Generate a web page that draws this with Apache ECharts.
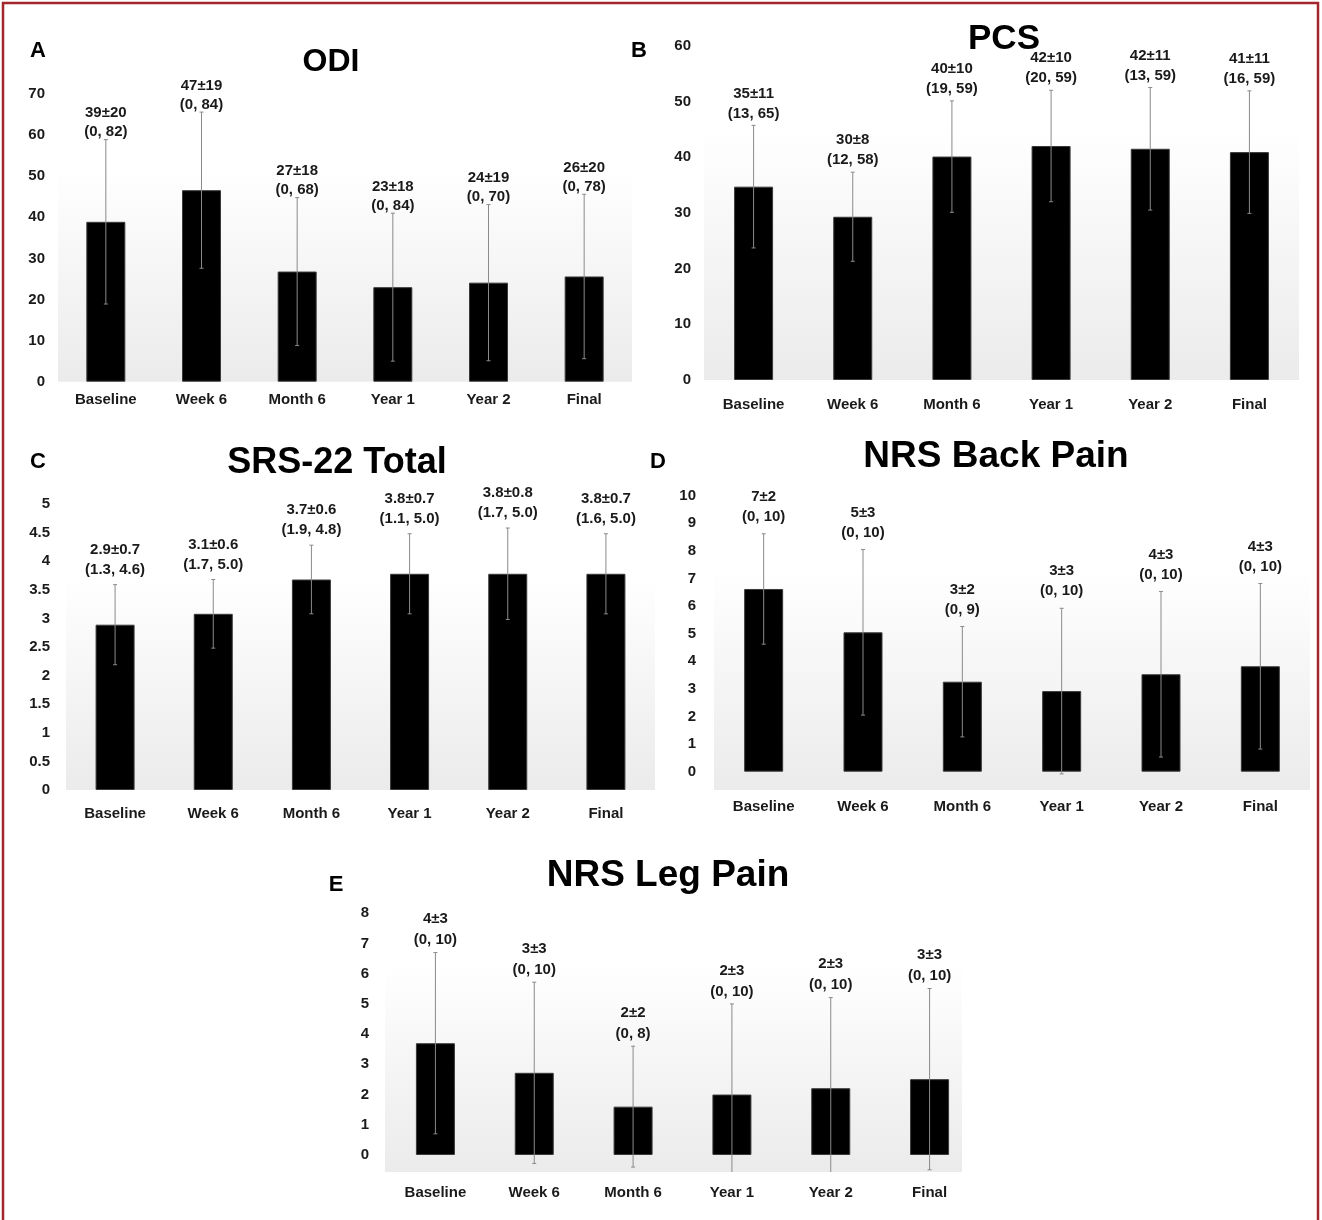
<!DOCTYPE html>
<html>
<head>
<meta charset="utf-8">
<script src="https://cdn.jsdelivr.net/npm/echarts@6/dist/echarts.min.js"></script>
<style>
html,body{margin:0;padding:0;background:#fff;}
#chart{width:1322px;height:1220px;}
</style>
</head>
<body>
<div id="chart"></div>
<script>
// ---------- DATA ----------
const categories = ['Baseline', 'Week 6', 'Month 6', 'Year 1', 'Year 2', 'Final'];

const odiMean = [38.9, 46.6, 26.8, 23.0, 24.1, 25.6];
const odiSd = [20, 19, 18, 18, 19, 20];
const odiSummary = ['39±20', '47±19', '27±18', '23±18', '24±19', '26±20'];
const odiRange = ['(0, 82)', '(0, 84)', '(0, 68)', '(0, 84)', '(0, 70)', '(0, 78)'];

const pcsMean = [34.7, 29.3, 40.1, 42.0, 41.5, 40.9];
const pcsSd = [11, 8, 10, 10, 11, 11];
const pcsSummary = ['35±11', '30±8', '40±10', '42±10', '42±11', '41±11'];
const pcsRange = ['(13, 65)', '(12, 58)', '(19, 59)', '(20, 59)', '(13, 59)', '(16, 59)'];

const srsMean = [2.89, 3.08, 3.68, 3.78, 3.78, 3.78];
const srsSd = [0.7, 0.6, 0.6, 0.7, 0.8, 0.7];
const srsSummary = ['2.9±0.7', '3.1±0.6', '3.7±0.6', '3.8±0.7', '3.8±0.8', '3.8±0.7'];
const srsRange = ['(1.3, 4.6)', '(1.7, 5.0)', '(1.9, 4.8)', '(1.1, 5.0)', '(1.7, 5.0)', '(1.6, 5.0)'];

const backMean = [6.62, 5.05, 3.26, 2.92, 3.53, 3.82];
const backSd = [2, 3, 2, 3, 3, 3];
const backSummary = ['7±2', '5±3', '3±2', '3±3', '4±3', '4±3'];
const backRange = ['(0, 10)', '(0, 10)', '(0, 9)', '(0, 10)', '(0, 10)', '(0, 10)'];

const legMean = [3.7, 2.72, 1.6, 2.0, 2.21, 2.51];
const legSd = [3, 3, 2, 3, 3, 3];
const legSummary = ['4±3', '3±3', '2±2', '2±3', '2±3', '3±3'];
const legRange = ['(0, 10)', '(0, 10)', '(0, 8)', '(0, 10)', '(0, 10)', '(0, 10)'];

const odiTicks = [0, 10, 20, 30, 40, 50, 60, 70];
const pcsTicks = [0, 10, 20, 30, 40, 50, 60];
const srsTicks = [0, 0.5, 1, 1.5, 2, 2.5, 3, 3.5, 4, 4.5, 5];
const backTicks = [0, 1, 2, 3, 4, 5, 6, 7, 8, 9, 10];
const legTicks = [0, 1, 2, 3, 4, 5, 6, 7, 8];

// ---------- LAYOUT ----------
const FONT = '"Liberation Sans", Arial, Helvetica, sans-serif';
const panels = [
  {mean: odiMean, sd: odiSd, sum: odiSummary, rng: odiRange, ticks: odiTicks,
   grid: {left: 58, top: 94, width: 574, height: 287.7}, min: 0, max: 70,
   yMargin: 13, xMargin: 11, bg: true, gap: -2, lh: 19},
  {mean: pcsMean, sd: pcsSd, sum: pcsSummary, rng: pcsRange, ticks: pcsTicks,
   grid: {left: 704, top: 45.7, width: 595, height: 334.3}, min: 0, max: 60,
   yMargin: 13, xMargin: 17, bg: true, gap: 2, lh: 20},
  {mean: srsMean, sd: srsSd, sum: srsSummary, rng: srsRange, ticks: srsTicks,
   grid: {left: 66, top: 504, width: 589, height: 286}, min: 0, max: 5,
   yMargin: 16, xMargin: 16, bg: true, gap: 5, lh: 20},
  {mean: backMean, sd: backSd, sum: backSummary, rng: backRange, ticks: backTicks,
   grid: {left: 714, top: 495.7, width: 596, height: 294.2}, min: -0.66, max: 10,
   yMargin: 18, xMargin: 9, bg: true, gap: 7, lh: 20},
  {mean: legMean, sd: legSd, sum: legSummary, rng: legRange, ticks: legTicks,
   grid: {left: 386, top: 913.3, width: 593, height: 258.6}, min: -0.56, max: 8,
   yMargin: 17, xMargin: 13, bg: false, gap: 2, lh: 21}
];

function bgGradient() {
  return new echarts.graphic.LinearGradient(0, 0, 0, 1, [
    {offset: 0, color: '#ffffff'},
    {offset: 0.25, color: '#ffffff'},
    {offset: 1, color: '#ebebeb'}
  ]);
}

const grids = [], xAxes = [], yAxes = [], series = [];
panels.forEach((p, k) => {
  grids.push(Object.assign({show: p.bg, backgroundColor: p.bg ? bgGradient() : 'transparent', borderWidth: 0}, p.grid));
  xAxes.push({
    type: 'category', gridIndex: k, data: categories,
    axisLine: {show: false}, axisTick: {show: false},
    axisLabel: {color: '#1a1a1a', fontFamily: FONT, fontWeight: 'bold', fontSize: 15, margin: p.xMargin}
  });
  yAxes.push({
    type: 'value', gridIndex: k, min: p.min, max: p.max,
    splitLine: {show: false}, axisLine: {show: false}, axisTick: {show: false},
    axisLabel: {customValues: p.ticks, color: '#1a1a1a', fontFamily: FONT, fontWeight: 'bold', fontSize: 15, margin: p.yMargin}
  });
  series.push({
    type: 'bar', xAxisIndex: k, yAxisIndex: k, barWidth: 39,
    itemStyle: {color: '#000', borderColor: '#3a3a3a', borderWidth: 1},
    data: p.mean, z: 2, silent: true
  });
  series.push({
    type: 'custom', xAxisIndex: k, yAxisIndex: k, z: 5, silent: true,
    encode: {x: 0, y: 1},
    data: p.mean.map((m, i) => [i, m, p.sd[i]]),
    renderItem: function (params, api) {
      const i = api.value(0), m = api.value(1), s = api.value(2);
      const top = api.coord([i, m + s]);
      const bot = api.coord([i, m - s]);
      const cs = params.coordSys;
      const yLimit = cs.y + cs.height;
      const by = Math.min(bot[1], yLimit);
      const x = top[0];
      const st = {stroke: '#8a8a8a', lineWidth: 1};
      const children = [
        {type: 'line', shape: {x1: x, y1: top[1], x2: x, y2: by}, style: st},
        {type: 'line', shape: {x1: x - 2, y1: top[1], x2: x + 2, y2: top[1]}, style: st}
      ];
      if (bot[1] <= yLimit) {
        children.push({type: 'line', shape: {x1: x - 2, y1: by, x2: x + 2, y2: by}, style: st});
      }
      children.push({
        type: 'text',
        style: {
          text: p.sum[params.dataIndex] + '\n' + p.rng[params.dataIndex],
          x: x, y: top[1] - p.gap,
          align: 'center', verticalAlign: 'bottom',
          textAlign: 'center', textVerticalAlign: 'bottom',
          font: 'bold 15px ' + FONT, lineHeight: p.lh, fill: '#1a1a1a'
        }
      });
      return {type: 'group', children: children};
    }
  });
});

const titleFont = (s) => 'bold ' + s + 'px ' + FONT;
const graphics = [
  {type: 'rect', z: 0, shape: {x: 385, y: 913, width: 577, height: 259},
   style: {fill: new echarts.graphic.LinearGradient(0, 0, 0, 1, [
     {offset: 0, color: '#ffffff'}, {offset: 0.2, color: '#ffffff'}, {offset: 1, color: '#ebebeb'}])}},
  {type: 'rect', z: 100, shape: {x: 3, y: 3, width: 1315, height: 1240},
   style: {fill: 'none', stroke: '#a3262c', lineWidth: 2.5}},
  {type: 'text', x: 331, y: 62, style: {text: 'ODI', font: titleFont(32), fill: '#000', align: 'center', verticalAlign: 'middle'}},
  {type: 'text', x: 1004, y: 39, style: {text: 'PCS', font: titleFont(35), fill: '#000', align: 'center', verticalAlign: 'middle'}},
  {type: 'text', x: 337, y: 463, style: {text: 'SRS-22 Total', font: titleFont(36), fill: '#000', align: 'center', verticalAlign: 'middle'}},
  {type: 'text', x: 996, y: 457, style: {text: 'NRS Back Pain', font: titleFont(37), fill: '#000', align: 'center', verticalAlign: 'middle'}},
  {type: 'text', x: 668, y: 876, style: {text: 'NRS Leg Pain', font: titleFont(37), fill: '#000', align: 'center', verticalAlign: 'middle'}},
  {type: 'text', x: 38, y: 51, style: {text: 'A', font: titleFont(22), fill: '#000', align: 'center', verticalAlign: 'middle'}},
  {type: 'text', x: 639, y: 51, style: {text: 'B', font: titleFont(22), fill: '#000', align: 'center', verticalAlign: 'middle'}},
  {type: 'text', x: 38, y: 462, style: {text: 'C', font: titleFont(22), fill: '#000', align: 'center', verticalAlign: 'middle'}},
  {type: 'text', x: 658, y: 462, style: {text: 'D', font: titleFont(22), fill: '#000', align: 'center', verticalAlign: 'middle'}},
  {type: 'text', x: 336, y: 885, style: {text: 'E', font: titleFont(22), fill: '#000', align: 'center', verticalAlign: 'middle'}}
];

const chart = echarts.init(document.getElementById('chart'), null, {renderer: 'canvas'});
chart.setOption({
  animation: false,
  backgroundColor: '#ffffff',
  grid: grids, xAxis: xAxes, yAxis: yAxes, series: series,
  graphic: graphics
});
</script>
</body>
</html>
